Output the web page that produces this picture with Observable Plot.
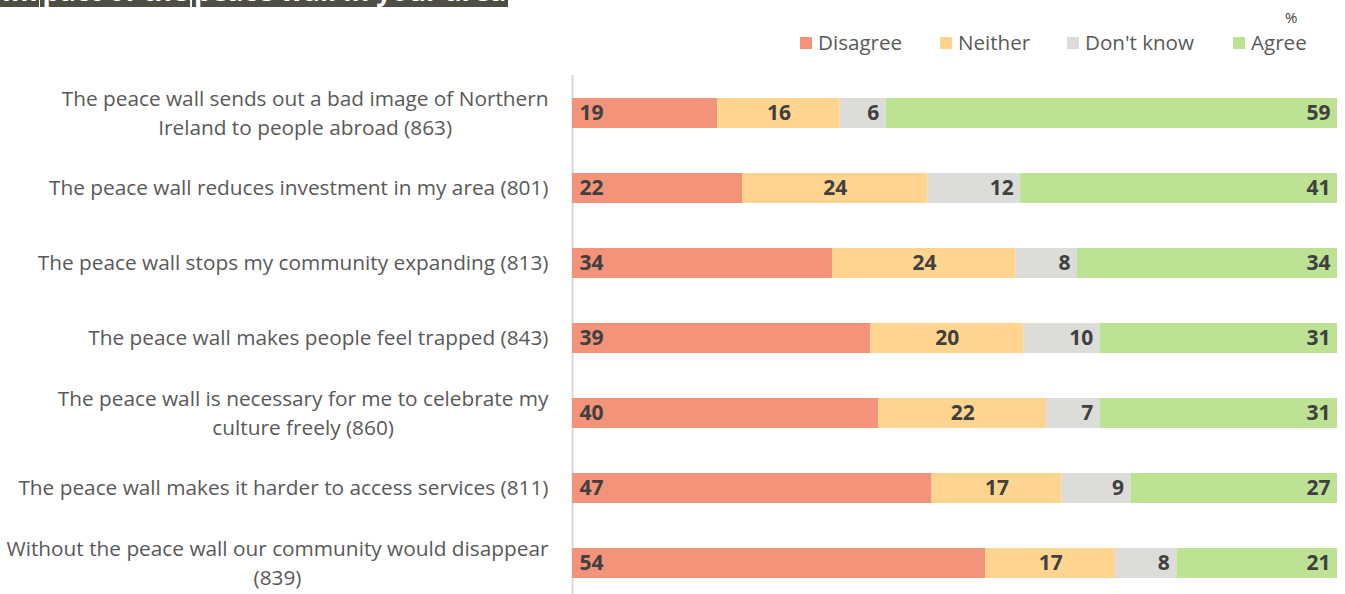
<!DOCTYPE html>
<html><head><meta charset="utf-8">
<script src="https://cdn.jsdelivr.net/npm/d3@7"></script>
<script src="https://cdn.jsdelivr.net/npm/@observablehq/plot@0.6"></script>
<style>
body{margin:0;background:#fff;font-family:"Open Sans",sans-serif;}
#wrap{position:relative;width:1345px;height:594px;overflow:hidden;background:#fff;}
#title{position:absolute;left:0;top:-26px;font-size:27px;line-height:33px;font-weight:bold;color:#fff;white-space:nowrap;}
#title span{background:#4f4e44;display:inline-block;padding:0 2px;}
#pct{position:absolute;left:1285px;top:7px;font-size:15px;color:#404040;}
.leg{position:absolute;top:29px;font-size:20.6px;color:#595959;line-height:27px;white-space:nowrap;}
.sw{position:absolute;width:12px;height:12px;top:37px;}
#chart{position:absolute;left:0;top:70px;}
</style></head>
<body><div id="wrap">
<div id="title"><span>Im</span><span style="margin-left:1px">pact of the</span><span style="margin-left:2px">peace wall in your area</span></div>
<div id="pct">%</div>
<div id="legend"></div>
<div id="chart"></div>
</div>
<script>
const categories = [
  "The peace wall sends out a bad image of Northern Ireland to people abroad (863)",
  "The peace wall reduces investment in my area (801)",
  "The peace wall stops my community expanding (813)",
  "The peace wall makes people feel trapped (843)",
  "The peace wall is necessary for me to celebrate my culture freely (860)",
  "The peace wall makes it harder to access services (811)",
  "Without the peace wall our community would disappear (839)"
];
const labelLines = [
  ["The peace wall sends out a bad image of Northern", "Ireland to people abroad (863)"],
  ["The peace wall reduces investment in my area (801)"],
  ["The peace wall stops my community expanding (813)"],
  ["The peace wall makes people feel trapped (843)"],
  ["The peace wall is necessary for me to celebrate my", "culture freely (860)"],
  ["The peace wall makes it harder to access services (811)"],
  ["Without the peace wall our community would disappear", "(839)"]
];
const responses = ["Disagree", "Neither", "Don't know", "Agree"];
const colors = ["#f2937a", "#fed48e", "#dcdcd8", "#bee294"];
const disagree = [19, 22, 34, 39, 40, 47, 54];
const neither  = [16, 24, 24, 20, 22, 17, 17];
const dontKnow = [6, 12, 8, 10, 7, 9, 8];
const agree    = [59, 41, 34, 31, 31, 27, 21];

const series = [disagree, neither, dontKnow, agree];
const data = [];
categories.forEach((c, i) => responses.forEach((r, j) => data.push({category: c, response: r, value: series[j][i]})));

// legend
const legendPos = [800, 940, 1067, 1233];
const legend = document.getElementById("legend");
responses.forEach((r, j) => {
  const sw = document.createElement("div");
  sw.className = "sw"; sw.style.left = legendPos[j] + "px"; sw.style.background = colors[j];
  legend.appendChild(sw);
  const t = document.createElement("div");
  t.className = "leg"; t.style.left = (legendPos[j] + 18) + "px"; t.textContent = r;
  legend.appendChild(t);
});

const labelFont = 20.8;
const ctx = document.createElement("canvas").getContext("2d");
ctx.font = `${labelFont}px "Open Sans"`;

const stackOpts = {x: "value", y: "category", z: "response", order: responses, offset: "normalize"};
const labelDx = -24, half = 14.5;
const labelMarks = [];
labelLines.forEach((lines, i) => {
  const cat = [categories[i]];
  if (lines.length === 1) {
    labelMarks.push(Plot.text(cat, {y: d => d, frameAnchor: "left", text: () => lines[0], textAnchor: "end", dx: labelDx, fill: "#595959", fontSize: labelFont}));
  } else {
    const w1 = ctx.measureText(lines[0]).width;
    labelMarks.push(Plot.text(cat, {y: d => d, frameAnchor: "left", text: () => lines[0], textAnchor: "end", dx: labelDx, dy: -half, fill: "#595959", fontSize: labelFont}));
    labelMarks.push(Plot.text(cat, {y: d => d, frameAnchor: "left", text: () => lines[1], textAnchor: "middle", dx: labelDx - w1 / 2, dy: half, fill: "#595959", fontSize: labelFont}));
  }
});

const valFont = {fill: "#404040", fontSize: 21, fontWeight: "bold"};
const chart = Plot.plot({
  width: 1345,
  height: 531,
  marginLeft: 572,
  marginRight: 8,
  marginTop: 5.5,
  marginBottom: 0,
  style: {fontFamily: "'Open Sans', sans-serif", background: "transparent"},
  x: {domain: [0, 1], axis: null},
  y: {domain: categories, paddingInner: 0.6, paddingOuter: 0.3, axis: null},
  color: {domain: responses, range: colors},
  marks: [
    Plot.frame({anchor: "left", stroke: "#d9d9d9", strokeWidth: 2}),
    Plot.barX(data, Plot.stackX({...stackOpts, fill: "response"})),
    Plot.text(data, Plot.stackX1({...stackOpts, text: d => d.response === "Disagree" ? d.value : null, textAnchor: "start", dx: 7, ...valFont})),
    Plot.text(data, Plot.stackX({...stackOpts, text: d => d.response === "Neither" ? d.value : null, textAnchor: "middle", ...valFont})),
    Plot.text(data, Plot.stackX2({...stackOpts, text: d => (d.response === "Don't know" || d.response === "Agree") ? d.value : null, textAnchor: "end", dx: -7, ...valFont})),
    ...labelMarks
  ]
});
document.getElementById("chart").appendChild(chart);
</script>
</body></html>
